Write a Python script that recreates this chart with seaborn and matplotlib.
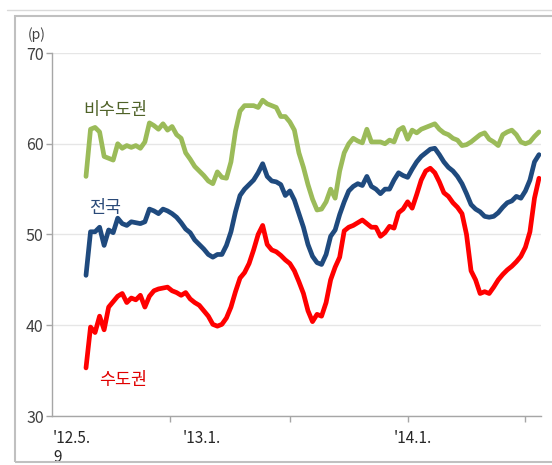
import numpy as np
import pandas as pd
import matplotlib
matplotlib.use("Agg")
import matplotlib.pyplot as plt
from matplotlib.patches import Rectangle
from matplotlib.lines import Line2D
import seaborn as sns

# ---- data (weekly index, values in points) ----
series_names = ["비수도권", "전국", "수도권"]

nonmetro = [56.4, 61.6, 61.8, 61.3, 58.6, 58.4, 58.2, 60.0, 59.5, 59.8,
            59.6, 59.8, 59.5, 60.2, 62.3, 62.0, 61.6, 62.2, 61.5, 61.9,
            61.0, 60.6, 59.0, 58.3, 57.5, 57.0, 56.5, 55.9, 55.6, 56.9,
            56.3, 56.2, 58.0, 61.4, 63.6, 64.2, 64.2, 64.2, 64.0, 64.8,
            64.4, 64.2, 64.0, 63.0, 63.0, 62.4, 61.5, 59.0, 57.4, 55.5,
            53.9, 52.7, 52.8, 53.6, 55.0, 54.0, 57.0, 59.0, 60.0, 60.6,
            60.3, 60.1, 61.6, 60.2, 60.2, 60.2, 60.0, 60.4, 60.2, 61.5,
            61.8, 60.5, 61.5, 61.2, 61.6, 61.8, 62.0, 62.2, 61.6, 61.2,
            61.0, 60.6, 60.4, 59.8, 59.9, 60.2, 60.6, 61.0, 61.2, 60.5,
            60.2, 59.8, 61.0, 61.3, 61.5, 61.0, 60.2, 60.0, 60.2, 60.8,
            61.3]

nation = [45.5, 50.3, 50.3, 50.8, 48.8, 50.5, 50.2, 51.8, 51.2, 51.0,
          51.4, 51.3, 51.2, 51.4, 52.8, 52.6, 52.3, 52.8, 52.6, 52.3,
          51.9, 51.3, 50.6, 50.2, 49.4, 48.9, 48.4, 47.8, 47.5, 47.8,
          47.8, 48.8, 50.3, 52.5, 54.3, 55.0, 55.5, 56.0, 56.8, 57.8,
          56.4, 55.9, 55.8, 55.5, 54.3, 54.8, 53.8, 52.3, 50.8, 48.9,
          47.6, 46.9, 46.7, 47.8, 49.8, 50.5, 52.2, 53.6, 54.8, 55.3,
          55.6, 55.4, 56.4, 55.3, 55.0, 54.5, 55.0, 55.0, 56.0, 56.8,
          56.5, 56.3, 57.2, 58.0, 58.6, 59.0, 59.4, 59.5, 58.8, 58.0,
          57.4, 57.0, 56.4, 55.6, 54.5, 53.3, 52.8, 52.5, 52.0, 51.9,
          52.0, 52.4, 53.0, 53.5, 53.7, 54.2, 54.0, 54.8, 56.0, 58.0,
          58.8]

metro = [35.3, 39.8, 39.2, 41.0, 39.5, 42.0, 42.6, 43.2, 43.5, 42.5,
         43.0, 42.8, 43.3, 42.0, 43.2, 43.8, 44.0, 44.1, 44.2, 43.8,
         43.6, 43.3, 43.6, 42.9, 42.5, 42.2, 41.6, 41.0, 40.1, 39.9,
         40.1, 40.8, 42.0, 43.7, 45.2, 45.8, 46.8, 48.3, 50.0, 51.0,
         48.9, 48.3, 48.1, 47.7, 47.2, 46.8, 46.0, 44.8, 43.5, 41.6,
         40.4, 41.2, 41.0, 42.5, 45.0, 46.4, 47.5, 50.4, 50.8, 51.0,
         51.3, 51.6, 51.2, 50.8, 50.8, 49.8, 50.2, 50.9, 50.7, 52.4,
         52.8, 53.6, 52.9, 54.4, 56.0, 57.0, 57.3, 56.8, 55.8, 54.6,
         54.2, 53.5, 53.0, 52.3, 50.0, 46.0, 45.0, 43.5, 43.7, 43.5,
         44.2, 45.0, 45.6, 46.1, 46.5, 47.0, 47.6, 48.6, 50.3, 54.0,
         56.2]

weeks = list(range(len(nation)))

x_tick_labels = ["'12.5.\n9", "'13.1.", "'14.1."]
y_ticks = [30, 40, 50, 60, 70]

# ---- styling ----
colors = {"비수도권": "#9BBB59", "전국": "#1F4A7E", "수도권": "#FF0000"}
text_colors = {"비수도권": "#4F6228", "전국": "#2A4A78", "수도권": "#E00000"}

df = pd.DataFrame({
    "week": weeks * 3,
    "value": nonmetro + nation + metro,
    "series": [series_names[0]] * len(weeks) + [series_names[1]] * len(weeks)
              + [series_names[2]] * len(weeks),
})

sns.set_theme(style="white")
plt.rcParams["font.family"] = ["Noto Sans CJK KR", "DejaVu Sans"]

fig = plt.figure(figsize=(5.52, 4.65), dpi=100)
W, H = 552, 465
ax = fig.add_axes([52 / W, 1 - 416 / H, (541 - 52) / W, (416 - 53) / H])

sns.lineplot(data=df, x="week", y="value", hue="series", palette=colors,
             linewidth=3.4, legend=False, ax=ax, estimator=None, sort=False)
for ln in ax.lines:
    ln.set_solid_joinstyle("round")
    ln.set_solid_capstyle("round")
ax.set_xlabel("")
ax.set_ylabel("")

# axis limits: data spans 86..539 px
step = (539 - 86) / (len(weeks) - 1)
ax.set_xlim((52 - 86) / step, (541 - 86) / step)
ax.set_ylim(30, 70)

ax.set_yticks(y_ticks)
ax.set_yticklabels([str(v) for v in y_ticks], fontsize=11.5, color="#404040")
ax.yaxis.grid(True, color="#E6E6E6", linewidth=1.0)
ax.xaxis.grid(False)
ax.tick_params(axis="y", which="major", length=4, width=1, color="#A6A6A6",
               pad=2, left=True)

major_px = [170, 290, 408, 525]
ax.set_xticks([(p - 86) / step for p in major_px])
ax.set_xticklabels([])
ax.tick_params(axis="x", which="major", length=4, width=1, color="#A6A6A6",
               bottom=True)

label_px = [53, 202, 413]
ax.set_xticks([(p - 86) / step for p in label_px], minor=True)
ax.set_xticklabels(x_tick_labels, minor=True, fontsize=11, color="#262626",
                   linespacing=1.2)
ax.tick_params(axis="x", which="minor", length=0, pad=10)
for lab, ha in zip(ax.get_xticklabels(minor=True), ["left", "center", "center"]):
    lab.set_horizontalalignment(ha)
    lab.set_verticalalignment("top")

for side in ["top", "right"]:
    ax.spines[side].set_visible(False)
for side in ["left", "bottom"]:
    ax.spines[side].set_color("#A6A6A6")
    ax.spines[side].set_linewidth(1.0)

# series labels
ax.text((115 - 86) / step, 70 - (110 - 53) / 9.075, series_names[0],
        color=text_colors["비수도권"], fontsize=12.5, ha="center", va="center")
ax.text((105 - 86) / step, 70 - (208 - 53) / 9.075, series_names[1],
        color=text_colors["전국"], fontsize=12.5, ha="center", va="center")
ax.text((123 - 86) / step, 70 - (380 - 53) / 9.075, series_names[2],
        color=text_colors["수도권"], fontsize=12.5, ha="center", va="center")

# unit label
fig.text(28 / W, 1 - 35 / H, "(p)", fontsize=10, color="#404040",
         ha="left", va="center")

# outer frame
fig.add_artist(Rectangle((15 / W, 1 - 462 / H), 1.0, (462 - 16) / H,
                         transform=fig.transFigure, fill=False,
                         edgecolor="#C0C0C0", linewidth=1.5, clip_on=False))
fig.add_artist(Line2D([7 / W, 1.0], [1 - 10.5 / H, 1 - 10.5 / H],
                      transform=fig.transFigure, color="#D9D9D9", linewidth=1.0))

fig.savefig("out.png", dpi=100)
